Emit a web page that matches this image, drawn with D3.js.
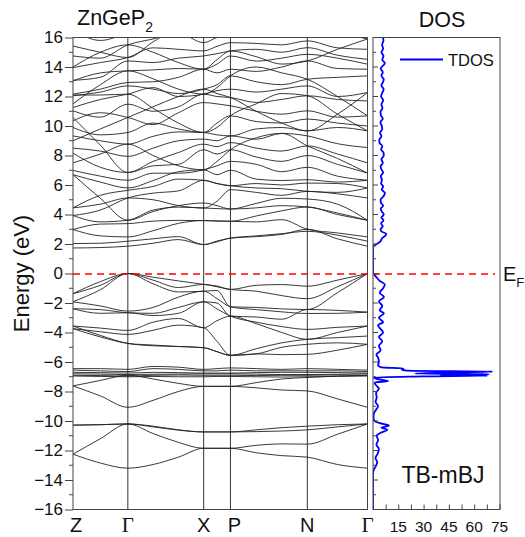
<!DOCTYPE html>
<html><head><meta charset="utf-8">
<script src="https://cdn.jsdelivr.net/npm/d3@7"></script>
<style>body{margin:0;background:#fff}svg{display:block;font-family:"Liberation Sans",Arial,sans-serif}</style>
</head><body>
<svg id="c" width="525" height="537"></svg>
<script>
// ---------- data ----------
const kLabels = ["Z","Γ","X","P","N","Γ"];
const kTicks = [0, 0.1862, 0.4437, 0.5346, 0.7957, 1];
// sample k positions: Z, ., Γ, ., ., X, ., P, ., ., N, ., Γ
const kPos = [0, 0.093, 0.1862, 0.272, 0.358, 0.4437, 0.489, 0.5346, 0.622, 0.709, 0.7957, 0.898, 1];
const energyTicks = [-16,-14,-12,-10,-8,-6,-4,-2,0,2,4,6,8,10,12,14,16];
const dosTickLabels = [15, 30, 45, 60, 75];

const geSBands = [
  [-12.25,-12.85,-13.2,-12.95,-12.45,-11.85,-11.85,-11.85,-12.15,-12.35,-12.45,-12.95,-13.2],
  [-12.25,-11.2,-10.2,-10.85,-11.45,-11.85,-11.85,-11.85,-11.65,-11.55,-11.57,-10.9,-10.2],
  [-10.28,-10.25,-10.2,-10.4,-10.62,-10.74,-10.74,-10.74,-10.72,-10.68,-10.6,-10.4,-10.2],
  [-10.28,-10.25,-10.2,-10.35,-10.6,-10.74,-10.74,-10.74,-10.6,-10.45,-10.35,-10.25,-10.2]
];
const sBands = [
  [-7.62,-8.3,-9.07,-8.6,-8.0,-7.65,-7.65,-7.65,-7.75,-7.9,-7.96,-8.5,-9.07],
  [-7.62,-7.25,-6.9,-7.15,-7.45,-7.65,-7.65,-7.65,-7.4,-7.15,-7.05,-6.95,-6.9]
];
const dBands = [
  [-6.45,-6.45,-6.5,-6.3,-6.35,-6.5,-6.45,-6.4,-6.45,-6.5,-6.45,-6.5,-6.55],
  [-6.55,-6.6,-6.65,-6.45,-6.5,-6.6,-6.6,-6.55,-6.6,-6.6,-6.6,-6.6,-6.65],
  [-6.7,-6.72,-6.75,-6.7,-6.72,-6.75,-6.75,-6.75,-6.72,-6.7,-6.7,-6.72,-6.75],
  [-6.8,-6.82,-6.85,-6.83,-6.82,-6.8,-6.8,-6.8,-6.82,-6.85,-6.85,-6.83,-6.8],
  [-6.9,-6.92,-6.95,-6.9,-6.88,-6.9,-6.9,-6.9,-6.92,-6.9,-6.9,-6.88,-6.9],
  [-6.95,-6.98,-7.0,-6.98,-7.0,-7.0,-6.98,-6.98,-7.0,-7.02,-7.0,-6.98,-6.95]
];
const valenceBands = [
  [-1.37,-0.55,0,-0.25,-0.5,-0.74,-0.85,-1.08,-0.8,-0.75,-0.86,-0.45,0],
  [-1.37,-0.8,0,-0.45,-0.95,-0.74,-0.9,-1.08,-1.2,-1.5,-1.71,-0.9,0],
  [-1.92,-1.1,0,-0.7,-1.25,-1.2,-1.15,-2.26,-2.3,-2.4,-2.44,-1.3,0],
  [-1.92,-2.2,-2.55,-2.3,-1.6,-1.2,-1.7,-2.26,-2.45,-2.6,-2.71,-2.7,-2.62],
  [-2.39,-2.45,-2.66,-2.7,-2.3,-1.92,-2.0,-2.89,-2.95,-3.1,-2.44,-2.5,-2.62],
  [-2.39,-2.7,-2.66,-2.85,-2.7,-1.92,-2.4,-2.89,-3.3,-3.6,-3.79,-3.65,-3.56],
  [-3.56,-3.7,-3.86,-3.3,-3.05,-3.68,-3.2,-2.89,-3.4,-4.0,-4.46,-4.0,-3.56],
  [-3.74,-3.95,-4.13,-3.85,-3.5,-3.68,-4.6,-5.55,-5.1,-4.7,-4.46,-4.35,-4.24],
  [-3.74,-4.3,-4.74,-4.85,-4.95,-5.03,-5.3,-5.55,-5.45,-5.5,-5.48,-5.2,-4.8],
  [-3.56,-4.2,-4.74,-4.9,-4.95,-5.03,-5.3,-5.55,-5.45,-5.0,-4.8,-4.7,-4.8]
];
const conductionBands = [
  [1.73,1.76,1.85,2.05,2.3,1.96,2.15,2.4,2.5,2.65,3.0,2.35,1.85],
  [2.03,2.05,2.19,2.35,2.5,1.96,2.2,2.4,2.55,2.7,2.86,2.6,2.19],
  [2.98,2.55,2.48,2.9,3.4,3.59,3.56,3.54,3.5,3.65,3.0,2.75,2.48],
  [2.98,3.35,3.38,3.55,3.6,3.59,3.56,3.54,3.9,4.25,4.51,4.0,3.61],
  [3.93,3.5,3.61,4.3,4.5,4.44,4.4,4.37,4.45,4.6,4.51,4.1,3.61],
  [6.70,5.1,3.61,4.2,4.6,4.78,4.6,4.37,4.75,5.1,5.05,4.7,3.61],
  [4.45,4.7,5.12,5.0,4.6,4.44,4.9,5.68,5.5,5.3,5.57,5.4,5.12],
  [3.93,4.3,5.12,5.45,5.6,6.32,6.1,5.95,5.8,5.75,5.57,5.5,5.8],
  [4.45,5.3,5.64,5.9,6.4,6.32,6.1,5.95,6.1,6.0,6.13,6.1,5.8],
  [6.70,6.2,5.8,6.3,6.9,7.03,6.7,7.0,6.4,6.3,6.36,6.2,6.32],
  [6.99,6.6,6.32,6.8,6.8,7.03,7.3,7.6,7.4,6.9,7.2,6.6,6.32],
  [8.16,7.2,6.85,7.3,7.4,8.39,8.1,8.39,7.9,7.6,8.0,7.4,6.81],
  [10.58,8.7,6.85,7.6,8.2,8.77,8.6,8.88,8.5,8.3,8.65,8.1,7.5],
  [8.5,8.3,7.94,8.5,9.0,9.11,9.0,9.33,9.1,9.5,9.33,8.8,8.54],
  [9.33,9.0,8.77,9.3,9.6,9.56,9.4,9.33,9.8,9.9,9.67,9.9,9.67],
  [9.9,9.4,9.56,10.2,9.8,9.56,10.2,10.69,10.3,10.2,10.47,10.2,10.0],
  [10.35,10.9,10.58,10.1,10.9,11.59,11.5,11.37,11.0,10.8,11.03,10.6,10.69],
  [11.03,10.6,11.48,11.0,11.3,12.16,12.0,11.93,11.6,11.8,12.05,11.8,11.7],
  [11.25,11.8,12.16,12.6,12.0,12.16,12.4,12.5,12.3,12.5,12.72,12.0,12.27],
  [12.05,12.3,12.72,12.5,12.2,12.5,12.8,13.4,13.0,12.8,13.17,13.3,13.4],
  [12.16,12.5,12.95,13.0,13.3,13.85,13.6,13.85,13.7,14.0,14.41,13.9,13.85],
  [13.06,13.6,13.74,13.8,13.9,13.85,14.2,14.75,14.4,14.6,14.86,14.6,14.19],
  [13.1,13.3,14.41,14.3,14.6,14.75,14.9,15.09,15.2,15.0,15.31,14.8,14.52],
  [13.96,14.3,14.64,15.3,15.2,15.09,15.4,15.65,15.6,15.5,15.77,15.3,15.2],
  [14.75,14.6,15.5,15.9,16.3,15.65,16.0,16.2,16.4,16.1,16.2,16.2,15.9],
  [15.42,15.0,14.64,15.7,16.6,16.2,16.5,16.6,16.8,16.5,16.6,16.6,16.5],
  [16.5,15.8,16.3,16.8,17,16.6,17,17,17,17,17,17,17],
  [12.1,12.1,12.16,11.2,10.2,9.56,9.9,10.69,11.5,12.2,12.05,10.8,9.67],
  [9.0,9.8,10.58,11.3,12.0,12.5,12.2,11.93,11.0,10.2,9.67,10.8,12.27],
  [7.5,8.1,8.77,8.0,7.3,7.03,7.6,8.39,9.2,9.5,8.65,7.8,6.81],
  [11.5,12.8,13.74,13.2,12.5,12.16,12.6,13.4,14.0,13.6,13.17,12.0,10.69],
  [14.0,15.0,15.5,15.0,14.3,13.85,14.5,15.09,14.7,14.2,14.41,15.2,15.9]
];

const dosEnergy = [-16,-13.6,-13.3,-13.1,-12.8,-12.5,-12.2,-11.9,-11.6,-11.3,-11.0,-10.8,-10.6,-10.45,-10.3,-10.15,-10.0,-9.8,-9.5,-9.2,-9.0,-8.7,-8.4,-8.1,-7.8,-7.6,-7.4,-7.28,-7.15,-7.05,-6.98,-6.92,-6.88,-6.83,-6.78,-6.72,-6.65,-6.58,-6.5,-6.43,-6.36,-6.2,-6.0,-5.7,-5.5,-5.2,-4.9,-4.6,-4.3,-4.0,-3.7,-3.5,-3.3,-3.0,-2.7,-2.5,-2.2,-1.9,-1.6,-1.3,-1.0,-0.75,-0.5,-0.25,-0.05,0,1.8,1.88,1.95,2.05,2.2,2.4,2.55,2.7,2.85,3.0,3.2,3.4,3.6,3.8,4.0,4.2,4.4,4.6,4.8,5.0,5.2,5.45,5.7,5.9,6.1,6.35,6.6,6.85,7.05,7.25,7.5,7.75,8.0,8.2,8.4,8.65,8.85,9.05,9.3,9.55,9.8,10.0,10.25,10.5,10.75,11.0,11.2,11.45,11.75,12.0,12.25,12.5,12.75,13.0,13.15,13.4,13.65,13.9,14.1,14.25,14.5,14.75,15.0,15.25,15.5,15.8,16.0];
const dosValue = [0,0,0.5,1.5,2.5,1.5,2.8,3.5,2.0,3.0,2.2,4.5,8.5,5.0,9.5,4.0,1.0,0.3,0.5,2.0,3.0,1.5,2.2,1.8,3.5,2.0,1.0,9.0,2.0,0.5,30,68,40,69,25,45,71,20,17,18,5,3,3.5,3.0,2.0,4.5,3.5,5.5,3.5,6.0,4.0,3.0,6.0,3.5,6.5,4.0,5.5,3.5,6.5,4.0,6.0,7.0,4.0,2.0,0.5,0,0,0.6,1.5,3.0,4.5,5.5,7.2,7.8,5.0,4.5,5.8,4.8,6.2,5.0,6.4,5.2,4.6,6.0,4.7,4.5,6.0,7.1,5.2,6.0,4.8,5.3,4.6,6.0,5.0,4.5,5.8,5.0,6.4,6.2,4.8,5.5,3.9,3.7,5.0,4.2,5.5,5.2,4.4,5.8,4.6,4.5,5.6,5.0,6.0,4.8,5.5,6.3,5.0,6.0,6.4,5.0,5.8,4.5,6.0,7.0,5.5,6.2,5.0,6.0,5.4,6.2,5.8];

// ---------- layout ----------
const svg = d3.select("#c");
const band = {l:73, r:367.5, t:37.5, b:509.5};
const dos = {l:373, r:500, t:37.5, b:509.5};

const x = d3.scaleLinear().domain([0,1]).range([band.l, band.r]);
const y = d3.scaleLinear().domain([-16,16]).range([band.b, band.t]);
const xd = d3.scaleLinear().domain([0,75]).range([dos.l, dos.l + 126.5]);

const defs = svg.append("defs");
defs.append("clipPath").attr("id","bc")
  .append("rect").attr("x",band.l).attr("y",band.t).attr("width",band.r-band.l).attr("height",band.b-band.t);
defs.append("clipPath").attr("id","dc")
  .append("rect").attr("x",dos.l).attr("y",dos.t).attr("width",dos.r-dos.l).attr("height",dos.b-dos.t);

// vertical k lines
svg.append("g").selectAll("line").data(kTicks.slice(1,-1)).join("line")
  .attr("x1",d=>x(d)).attr("x2",d=>x(d)).attr("y1",band.t).attr("y2",band.b)
  .attr("stroke","#333").attr("stroke-width",1);

// bands
const line = d3.line().x((d,i)=>x(kPos[i])).y(d=>y(d)).curve(d3.curveMonotoneX);
const allBands = [].concat(geSBands, sBands, dBands, valenceBands, conductionBands);
svg.append("g").attr("clip-path","url(#bc)").selectAll("path").data(allBands).join("path")
  .attr("d",line).attr("fill","none").attr("stroke","#222").attr("stroke-width",0.9);

// DOS curve
const dosPts = dosEnergy.map((e,i)=>[dosValue[i], e]);
svg.append("path").attr("clip-path","url(#dc)").datum(dosPts)
  .attr("d", d3.line().x(d=>xd(d[0])).y(d=>y(d[1])).curve(d3.curveMonotoneY))
  .attr("fill","none").attr("stroke","#0000ff").attr("stroke-width",1.8);

// frames
svg.append("rect").attr("x",band.l).attr("y",band.t).attr("width",band.r-band.l).attr("height",band.b-band.t)
  .attr("fill","none").attr("stroke","#444").attr("stroke-width",1);
svg.append("rect").attr("x",dos.l).attr("y",dos.t).attr("width",dos.r-dos.l).attr("height",dos.b-dos.t)
  .attr("fill","none").attr("stroke","#444").attr("stroke-width",1);

// Fermi level (on top)
svg.append("line").attr("x1",band.l).attr("x2",495).attr("y1",274).attr("y2",274)
  .style("stroke","rgb(255,0,0)").style("stroke-width","1.3px").style("stroke-dasharray","7 5");

// left energy axis
const yAxis = d3.axisLeft(y).tickValues(energyTicks).tickSize(8).tickPadding(2).tickFormat(d3.format("d"));
const gy = svg.append("g").attr("transform",`translate(${band.l},0)`).call(yAxis);
gy.select(".domain").remove();
gy.selectAll(".tick line").attr("stroke","#444");
gy.selectAll("text").attr("font-size",17).attr("font-family","Liberation Sans, Arial").attr("fill","#111");
const minorE = d3.range(-15,16,2);
svg.append("g").selectAll("line").data(minorE).join("line")
  .attr("x1",band.l-4).attr("x2",band.l).attr("y1",d=>y(d)).attr("y2",d=>y(d)).attr("stroke","#444");

// DOS panel inner ticks (left edge)
svg.append("g").selectAll("line").data(d3.range(-15,16)).join("line")
  .attr("x1",dos.l).attr("x2",d=>dos.l + (d%2===0?5:3)).attr("y1",d=>y(d)).attr("y2",d=>y(d)).attr("stroke","#444");

// DOS bottom axis
const xAxis = d3.axisTop(xd).tickValues(d3.range(7.5,76,7.5)).tickSize(5).tickFormat("");
const gx = svg.append("g").attr("transform",`translate(0,${dos.b})`).call(xAxis);
gx.select(".domain").remove();
gx.selectAll(".tick line").attr("stroke","#444");
svg.append("g").selectAll("text").data(dosTickLabels).join("text")
  .attr("x",d=>xd(d)).attr("y",532).attr("text-anchor","middle").attr("font-size",15.5).attr("fill","#111").text(d=>d);

// k labels
svg.append("g").selectAll("text").data(kLabels).join("text")
  .attr("x",(d,i)=>x(kTicks[i]) + (i===0?3:(i===3?4:0))).attr("y",532).attr("text-anchor","middle")
  .attr("font-size",d=>d==="Γ"?21:20)
  .attr("font-family",d=>d==="Γ"?"Liberation Serif, Times New Roman, serif":"Liberation Sans, Arial")
  .attr("fill","#111").text(d=>d);

// titles
const t = svg.append("text").attr("x",77).attr("y",25).attr("font-size",21.5).attr("fill","#111");
t.append("tspan").text("ZnGeP");
t.append("tspan").attr("font-size",14).attr("dy",7).text("2");
svg.append("text").attr("x",442).attr("y",27).attr("text-anchor","middle").attr("font-size",21.5).attr("fill","#111").text("DOS");

// y label
svg.append("text").attr("transform",`translate(29,${y(0)}) rotate(-90)`).attr("text-anchor","middle")
  .attr("font-size",22).attr("fill","#111").text("Energy (eV)");

// legend
svg.append("line").attr("x1",400).attr("x2",443).attr("y1",59.5).attr("y2",59.5).attr("stroke","#0000ff").attr("stroke-width",1.8);
svg.append("text").attr("x",448).attr("y",65.5).attr("font-size",16.5).attr("fill","#111").text("TDOS");

// TB-mBJ
svg.append("text").attr("x",443).attr("y",483).attr("text-anchor","middle").attr("font-size",23).attr("fill","#111").text("TB-mBJ");

// E_F
const ef = svg.append("text").attr("x",503).attr("y",281).attr("font-size",20).attr("fill","#111");
ef.append("tspan").text("E");
ef.append("tspan").attr("font-size",13).attr("dy",6).text("F");
</script>
</body></html>
